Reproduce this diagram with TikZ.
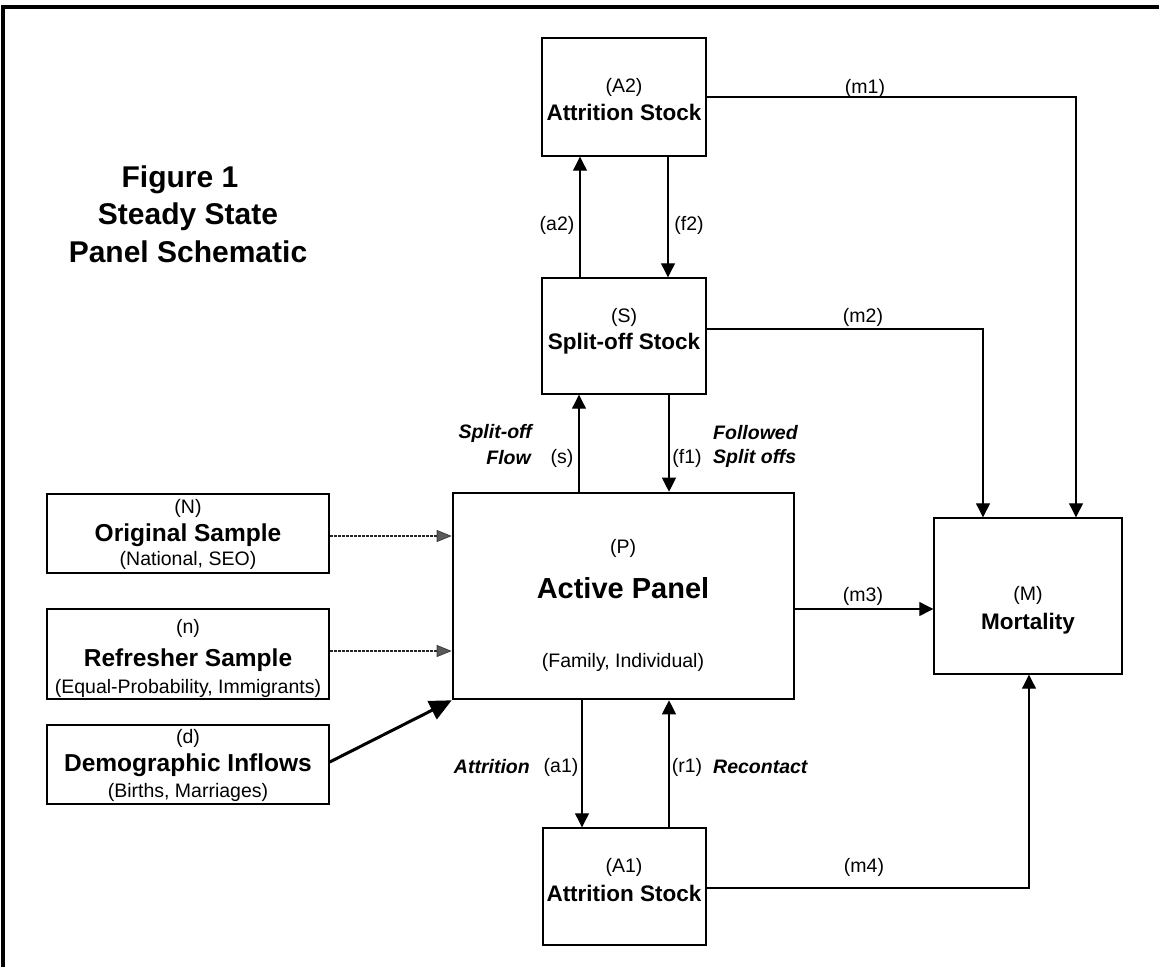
\documentclass[tikz,border=0pt]{standalone}
\usepackage{fontspec}
\setmainfont{Liberation Sans}
\usetikzlibrary{arrows.meta}
\begin{document}
\begin{tikzpicture}[x=1pt,y=-1pt,
  box/.style={draw,line width=1.4pt,inner sep=0pt},
  panelbox/.style={draw,line width=2.6pt,inner sep=0pt},
  lbl/.style={font=\fontsize{19.5}{22}\selectfont,inner sep=0pt},
  big/.style={font=\bfseries\fontsize{22.5}{26}\selectfont,inner sep=0pt},
  bigl/.style={font=\bfseries\fontsize{24.5}{28}\selectfont,inner sep=0pt},
  ital/.style={font=\bfseries\itshape\fontsize{19.5}{22}\selectfont,inner sep=0pt},
  ttl/.style={font=\bfseries\fontsize{30}{34}\selectfont,inner sep=0pt},
  arr/.style={line width=1.1pt,-{Triangle[width=14pt,length=14pt]}},
  dsh/.style={line width=1.6pt,dash pattern=on 3pt off 1pt,draw=black!85,
     -{Triangle[width=12pt,length=15pt,color=black!75,fill=gray!70!black,line width=0.8pt]}},
  thickarr/.style={line width=3pt,-{Triangle[width=20pt,length=22pt]}}
]
\useasboundingbox (0,0) rectangle (1159,967);
% frame (top and left edges visible)
\draw[line width=3.5pt] (3,967) -- (3,7) -- (1159,7);

% title
\node[ttl] (t1) at (180,180) {Figure 1};
\node[ttl] (t2) at (188,217) {Steady State};
\node[ttl] (t3) at (188,252) {Panel Schematic};

% boxes
\node[box,minimum width=164pt,minimum height=118pt] (A2) at (624,97) {};
\node[box,minimum width=164pt,minimum height=116pt] (S) at (624,336) {};
\node[panelbox,minimum width=341pt,minimum height=206pt] (P) at (623.5,596) {};
\node[box,minimum width=163pt,minimum height=117pt] (A1) at (624.5,886.5) {};
\node[box,minimum width=188pt,minimum height=156pt] (M) at (1028,596) {};
\node[box,minimum width=282pt,minimum height=79pt] (N) at (188,533.5) {};
\node[box,minimum width=282pt,minimum height=90pt] (n) at (188,654) {};
\node[box,minimum width=282pt,minimum height=79pt] (d) at (188,764.5) {};

% box texts
\node[lbl] (A2a) at (624,87) {(A2)};
\node[big] (A2b) at (624,112) {Attrition Stock};
\node[lbl] (Sa) at (624,317) {(S)};
\node[big] (Sb) at (624,344) {Split-off Stock};
\node[lbl] (Pa) at (623,548) {(P)};
\node[font=\bfseries\fontsize{29}{32}\selectfont,inner sep=0pt] (Pb) at (623,588) {Active Panel};
\node[lbl] (Pc) at (623,662) {(Family, Individual)};
\node[lbl] (A1a) at (624,867) {(A1)};
\node[big] (A1b) at (624,893) {Attrition Stock};
\node[lbl] (Ma) at (1028,595) {(M)};
\node[big] (Mb) at (1028,624) {Mortality};
\node[lbl] (Na) at (188,508) {(N)};
\node[bigl] (Nb) at (188,535) {Original Sample};
\node[lbl] (Nc) at (188,560) {(National, SEO)};
\node[lbl] (na) at (188,628) {(n)};
\node[bigl] (nb) at (188,660) {Refresher Sample};
\node[lbl] (nc) at (188,688) {(Equal-Probability, Immigrants)};
\node[lbl] (da) at (188,738) {(d)};
\node[bigl] (db) at (188,765) {Demographic Inflows};
\node[lbl] (dc) at (188,792) {(Births, Marriages)};

% connector positions
\coordinate (xa2) at (580,0);
\coordinate (xf2) at (668,0);
\coordinate (xs) at (579,0);
\coordinate (xf1) at (669,0);
\coordinate (xa1) at (582,0);
\coordinate (xr1) at (669,0);
\coordinate (xm1) at (1076,0);
\coordinate (xm2) at (983,0);
\coordinate (xm4) at (1029,0);
\coordinate (ym1) at (0,97);
\coordinate (ym2) at (0,329);
\coordinate (ym3) at (0,609);
\coordinate (ym4) at (0,888);
\coordinate (yN) at (0,536);
\coordinate (yn) at (0,651);
\coordinate (yd) at (0,762);

% connectors
\draw[arr] (S.north -| xa2) -- (A2.south -| xa2);
\draw[arr] (A2.south -| xf2) -- (S.north -| xf2);
\draw[arr] (P.north -| xs) -- (S.south -| xs);
\draw[arr] (S.south -| xf1) -- (P.north -| xf1);
\draw[arr] (P.south -| xa1) -- (A1.north -| xa1);
\draw[arr] (A1.north -| xr1) -- (P.south -| xr1);
\draw[arr] (A2.east |- ym1) -| (M.north -| xm1);
\draw[arr] (S.east |- ym2) -| (M.north -| xm2);
\draw[arr] (P.east |- ym3) -- (M.west |- ym3);
\draw[arr] (A1.east |- ym4) -| (M.south -| xm4);
\draw[dsh] (N.east |- yN) -- (P.west |- yN);
\draw[dsh] (n.east |- yn) -- (P.west |- yn);
\draw[thickarr] (d.east |- yd) -- (P.south west);

% connector labels
\node[lbl] (lm1) at (865,88) {(m1)};
\node[lbl] (lm2) at (863,317) {(m2)};
\node[lbl] (lm3) at (863,596) {(m3)};
\node[lbl] (lm4) at (864,867) {(m4)};
\node[lbl] (la2) at (557,225) {(a2)};
\node[lbl] (lf2) at (689,225) {(f2)};
\node[lbl] (ls) at (562,458) {(s)};
\node[ital,anchor=east] (lsa) at (532,433) {Split-off};
\node[ital,anchor=east] (lsb) at (531,458) {Flow};
\node[lbl] (lf1) at (687,458) {(f1)};
\node[ital,anchor=west] (lfa) at (713,433) {Followed};
\node[ital,anchor=west] (lfb) at (713,458) {Split offs};
\node[lbl] (la1) at (561,767) {(a1)};
\node[ital,anchor=east] (la1t) at (530,767) {Attrition};
\node[lbl] (lr1) at (687,767) {(r1)};
\node[ital,anchor=west] (lr1t) at (713,767) {Recontact};
\end{tikzpicture}
\end{document}
